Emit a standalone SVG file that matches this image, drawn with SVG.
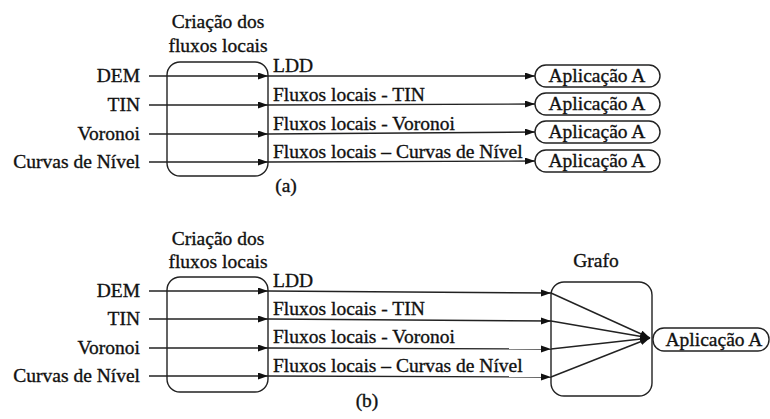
<svg xmlns="http://www.w3.org/2000/svg" width="770" height="419" viewBox="0 0 770 419" font-family="'Liberation Serif','Times New Roman',serif">
<defs>
<style>
text{font-family:"Liberation Serif","Times New Roman",serif;font-size:19.5px;fill:#111;stroke:#111;stroke-width:0.35}
.r{text-anchor:end}
.m{text-anchor:middle}
.box{fill:none;stroke:#222;stroke-width:1.4}
.c{fill:none;stroke:#222;stroke-width:1.4}
</style>
<marker id="ah" markerUnits="userSpaceOnUse" markerWidth="10" markerHeight="8" refX="10" refY="3.5" orient="auto">
<path d="M0,0 L10,3.5 L0,7 z" fill="#111"/>
</marker>
</defs>
<rect width="770" height="419" fill="#fff"/>

<!-- (a) -->
<g id="a-inputs">
<text class="r" x="140" y="82">DEM</text>
<text class="r" x="140" y="111">TIN</text>
<text class="r" x="140" y="140">Voronoi</text>
<text class="r" x="140" y="168">Curvas de Nível</text>
</g>
<g id="a-criacao">
<rect class="box" x="167" y="62" width="101" height="114" rx="13"/>
<text class="m" x="218" y="28">Criação dos</text>
<text class="m" x="218" y="52">fluxos locais</text>
</g>
<g id="a-app1"><rect class="box" x="535" y="65" width="125" height="22" rx="11"/><text class="m" x="597" y="82">Aplicação A</text></g>
<g id="a-app2"><rect class="box" x="535" y="93" width="125" height="22" rx="11"/><text class="m" x="597" y="110">Aplicação A</text></g>
<g id="a-app3"><rect class="box" x="535" y="121" width="125" height="22" rx="11"/><text class="m" x="597" y="138">Aplicação A</text></g>
<g id="a-app4"><rect class="box" x="535" y="150" width="125" height="22" rx="11"/><text class="m" x="597" y="167">Aplicação A</text></g>
<g id="a-caption"><text class="m" x="286" y="192">(a)</text></g>

<!-- (b) -->
<g id="b-inputs">
<text class="r" x="140" y="297">DEM</text>
<text class="r" x="140" y="325">TIN</text>
<text class="r" x="140" y="354">Voronoi</text>
<text class="r" x="140" y="382">Curvas de Nível</text>
</g>
<g id="b-criacao">
<rect class="box" x="167" y="277" width="101" height="115" rx="13"/>
<text class="m" x="218" y="245">Criação dos</text>
<text class="m" x="218" y="268">fluxos locais</text>
</g>
<g id="b-grafo">
<rect class="box" x="551" y="282" width="101" height="114" rx="13"/>
<text class="m" x="596" y="267">Grafo</text>
</g>
<g id="b-app">
<rect class="box" x="653" y="328" width="116" height="23" rx="11"/>
<text class="m" x="714" y="346">Aplicação A</text>
</g>
<g id="b-caption"><text class="m" x="367" y="407">(b)</text></g>

<g id="connectors">
<!-- (a) -->
<line class="c" x1="149" y1="76" x2="268" y2="76" marker-end="url(#ah)"/>
<line class="c" x1="149" y1="105" x2="268" y2="105" marker-end="url(#ah)"/>
<line class="c" x1="149" y1="134" x2="268" y2="134" marker-end="url(#ah)"/>
<line class="c" x1="149" y1="162" x2="268" y2="162" marker-end="url(#ah)"/>
<line class="c" x1="268" y1="76" x2="535" y2="76" marker-end="url(#ah)"/>
<line class="c" x1="268" y1="105" x2="535" y2="104" marker-end="url(#ah)"/>
<line class="c" x1="268" y1="134" x2="535" y2="132" marker-end="url(#ah)"/>
<line class="c" x1="268" y1="162" x2="535" y2="161" marker-end="url(#ah)"/>
<text x="273" y="72">LDD</text>
<text x="273" y="101">Fluxos locais - TIN</text>
<text x="273" y="130">Fluxos locais - Voronoi</text>
<text x="273" y="158">Fluxos locais – Curvas de Nível</text>
<!-- (b) -->
<line class="c" x1="149" y1="291" x2="268" y2="291" marker-end="url(#ah)"/>
<line class="c" x1="149" y1="319" x2="268" y2="319" marker-end="url(#ah)"/>
<line class="c" x1="149" y1="348" x2="268" y2="348" marker-end="url(#ah)"/>
<line class="c" x1="149" y1="376" x2="268" y2="376" marker-end="url(#ah)"/>
<line class="c" x1="268" y1="291" x2="551" y2="293" marker-end="url(#ah)"/>
<line class="c" x1="268" y1="319" x2="551" y2="321" marker-end="url(#ah)"/>
<line class="c" x1="268" y1="348" x2="551" y2="349" marker-end="url(#ah)"/>
<line class="c" x1="268" y1="376" x2="551" y2="377" marker-end="url(#ah)"/>
<line class="c" x1="551" y1="293" x2="650" y2="338" marker-end="url(#ah)"/>
<line class="c" x1="551" y1="321" x2="650" y2="338" marker-end="url(#ah)"/>
<line class="c" x1="551" y1="349" x2="650" y2="338" marker-end="url(#ah)"/>
<line class="c" x1="551" y1="377" x2="650" y2="338" marker-end="url(#ah)"/>
<text x="273" y="287">LDD</text>
<text x="273" y="315">Fluxos locais - TIN</text>
<text x="273" y="343">Fluxos locais - Voronoi</text>
<text x="273" y="372">Fluxos locais – Curvas de Nível</text>
</g>
</svg>
